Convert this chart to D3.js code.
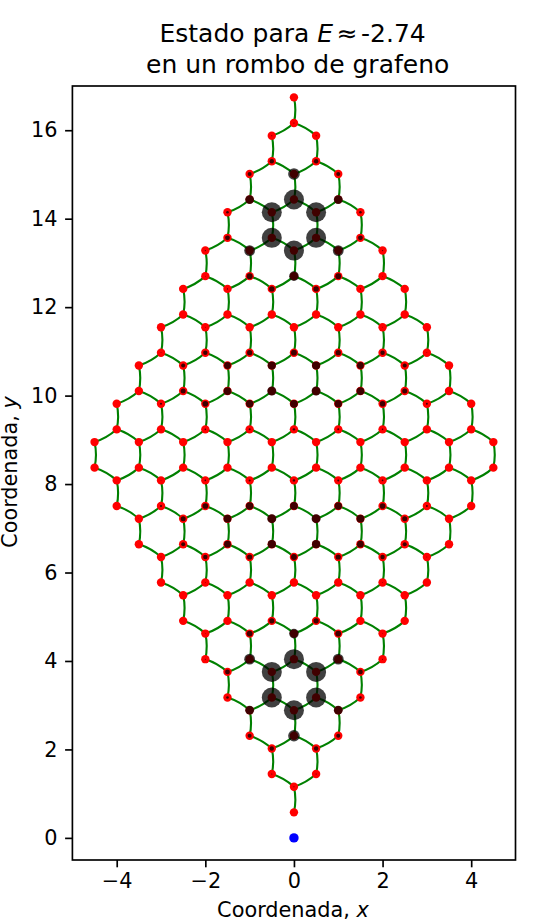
<!DOCTYPE html>
<html>
<head>
<meta charset="utf-8">
<style>
html,body{margin:0;padding:0;background:#fff}
svg{display:block}
text{font-family:"DejaVu Sans";fill:#000}
</style>
<script src="https://cdn.jsdelivr.net/npm/d3@7/dist/d3.min.js"></script>
</head>
<body>
<svg id="c" width="555" height="924"></svg>
<script>
const titleLine2 = "en un rombo de grafeno";
const xLabel = "Coordenada, ";
const yLabel = "Coordenada, ";
const xTicks = [-4,-2,0,2,4];
const yTicks = [0,2,4,6,8,10,12,14,16];
const xDomain = [-5,5];
const yDomain = [-0.5,17];
const sourcePoint = [0,0];

// lattice rows, bottom to top: height of each row
const rowY = [0.577,1.155,1.443,2.021,2.309,2.887,3.175,3.753,4.041,4.619,
  4.907,5.485,5.773,6.351,6.64,7.217,7.505,8.083,8.371,8.949,
  9.237,9.815,10.103,10.681,10.97,11.547,11.835,12.413,12.701,13.279,
  13.567,14.145,14.433,15.011,15.299,15.877,16.165,16.743];
// x position of the sites of each row
const rowX = [
 [0],[0],[-0.5,0.5],[-0.5,0.5],[-1,0,1],[-1,0,1],[-1.5,-0.5,0.5,1.5],[-1.5,-0.5,0.5,1.5],
 [-2,-1,0,1,2],[-2,-1,0,1,2],[-2.5,-1.5,-0.5,0.5,1.5,2.5],[-2.5,-1.5,-0.5,0.5,1.5,2.5],
 [-3,-2,-1,0,1,2,3],[-3,-2,-1,0,1,2,3],[-3.5,-2.5,-1.5,-0.5,0.5,1.5,2.5,3.5],[-3.5,-2.5,-1.5,-0.5,0.5,1.5,2.5,3.5],
 [-4,-3,-2,-1,0,1,2,3,4],[-4,-3,-2,-1,0,1,2,3,4],
 [-4.5,-3.5,-2.5,-1.5,-0.5,0.5,1.5,2.5,3.5,4.5],[-4.5,-3.5,-2.5,-1.5,-0.5,0.5,1.5,2.5,3.5,4.5],
 [-4,-3,-2,-1,0,1,2,3,4],[-4,-3,-2,-1,0,1,2,3,4],
 [-3.5,-2.5,-1.5,-0.5,0.5,1.5,2.5,3.5],[-3.5,-2.5,-1.5,-0.5,0.5,1.5,2.5,3.5],
 [-3,-2,-1,0,1,2,3],[-3,-2,-1,0,1,2,3],[-2.5,-1.5,-0.5,0.5,1.5,2.5],[-2.5,-1.5,-0.5,0.5,1.5,2.5],
 [-2,-1,0,1,2],[-2,-1,0,1,2],[-1.5,-0.5,0.5,1.5],[-1.5,-0.5,0.5,1.5],[-1,0,1],[-1,0,1],
 [-0.5,0.5],[-0.5,0.5],[0],[0]
];
// amplitude read from the dark discs, one value per site, 0 to 10
const rowAmp = [
 [0],[0.5],[0.5,0.5],[2.2,2.2],[2,5.8,2],[4.4,10,4.4],[1.3,10,10,1.3],[2.4,10,10,2.4],
 [0.5,5.4,10,5.4,0.5],[0.3,2.9,4.8,2.9,0.3],[0,0,2.6,2.6,0,0],[0,0,0,0,0,0],
 [0,0.4,0,0,0,0.4,0],[0.4,2.2,2.6,2.9,2.6,2.2,0.4],[0,2,3.4,4.1,4.1,3.4,2,0],[0.2,2.5,3.9,4.5,4.5,3.9,2.5,0.2],
 [0,1,2.8,3.7,3.9,3.7,2.8,1,0],[0,0.3,0.8,1,1.2,1,0.8,0.3,0],
 [0,0,0,0,0,0,0,0,0,0],[0,0,0,0,0,0,0,0,0,0],
 [0,0.3,0.8,1,1.2,1,0.8,0.3,0],[0,1,2.8,3.7,3.9,3.7,2.8,1,0],
 [0.2,2.5,3.9,4.5,4.5,3.9,2.5,0.2],[0,2,3.4,4.1,4.1,3.4,2,0],
 [0.4,2.2,2.6,2.9,2.6,2.2,0.4],[0,0.4,0,0,0,0.4,0],[0,0,0,0,0,0],[0,0.6,2.7,2.7,0.6,0],
 [0.3,2.9,4.8,2.9,0.3],[0.6,5.4,10,5.4,0.6],[2.4,10,10,2.4],[1.3,10,10,1.3],[4.4,10,4.4],[2,5.8,2],
 [2.2,2.2],[0.5,0.5],[0.5],[0]
];

const svg = d3.select("#c");
const L=72.4,R=515.5,T=86,B=860;
const x = d3.scaleLinear().domain(xDomain).range([L,R]);
const y = d3.scaleLinear().domain(yDomain).range([B,T]);
const r = d3.scaleLinear().domain([0,10]).range([0,10]);

const sites = [];
rowY.forEach((yy,i)=>rowX[i].forEach((xx,k)=>sites.push({x:xx,y:yy,amp:rowAmp[i][k]})));

// bonds connect nearest neighbours, each drawn bottom to top with the same bend
const bonds = [];
sites.forEach((a,i)=>sites.forEach((b,j)=>{
  if(j>i && Math.hypot(a.x-b.x,a.y-b.y)<0.62) bonds.push(a.y<b.y?[a,b]:[b,a]);
}));
const bend = 0.11;
function bondPath(d){
  const x0=x(d[0].x),y0=y(d[0].y),x1=x(d[1].x),y1=y(d[1].y);
  const mx=(x0+x1)/2,my=(y0+y1)/2,dx=x1-x0,dy=y1-y0;
  const p=d3.path();
  p.moveTo(x0,y0);
  p.quadraticCurveTo(mx-bend*dy,my+bend*dx,x1,y1);
  return p.toString();
}
svg.append("g").selectAll("path").data(bonds).join("path")
  .attr("d",bondPath).attr("fill","none").attr("stroke","#008000").attr("stroke-width",2.1);
svg.append("g").selectAll("circle").data(sites).join("circle")
  .attr("cx",d=>x(d.x)).attr("cy",d=>y(d.y)).attr("r",4.2).attr("fill","#ff0000");
svg.append("g").selectAll("circle").data(sites.filter(d=>d.amp>0)).join("circle")
  .attr("cx",d=>x(d.x)).attr("cy",d=>y(d.y)).attr("r",d=>r(d.amp)).attr("fill","#000").attr("fill-opacity",0.75);
svg.append("circle").attr("cx",x(sourcePoint[0])).attr("cy",y(sourcePoint[1])).attr("r",4.7).attr("fill","#0000ff");

svg.append("rect").attr("x",L).attr("y",T).attr("width",R-L).attr("height",B-T)
  .attr("fill","none").attr("stroke","#000").attr("stroke-width",1.67);

const xAxis = svg.append("g").attr("transform",`translate(0,${B})`)
  .call(d3.axisBottom(x).tickValues(xTicks).tickSizeInner(7.3).tickSizeOuter(0).tickPadding(6));
const yAxis = svg.append("g").attr("transform",`translate(${L},0)`)
  .call(d3.axisLeft(y).tickValues(yTicks).tickSizeInner(7.3).tickSizeOuter(0).tickPadding(7.5));
[xAxis,yAxis].forEach(g=>{
  g.select(".domain").remove();
  g.selectAll("line").attr("stroke","#000").attr("stroke-width",1.67);
  g.selectAll("text").attr("font-family","DejaVu Sans").attr("font-size",20.83).attr("fill","#000");
});

const title1 = svg.append("text").attr("x",159.5).attr("y",42).attr("font-size",25);
title1.append("tspan").text("Estado para ");
title1.append("tspan").attr("font-style","italic").text("E");
title1.append("tspan").attr("dx",3.5).text("≈");
title1.append("tspan").attr("dx",3.5).text("-2.74");
svg.append("text").attr("x",146).attr("y",72.5).attr("font-size",25).text(titleLine2);

const xl = svg.append("text").attr("x",293).attr("y",917).attr("text-anchor","middle").attr("font-size",20.83);
xl.append("tspan").text(xLabel);
xl.append("tspan").attr("font-style","italic").text("x");
const yl = svg.append("text").attr("transform","translate(16.6,472) rotate(-90)").attr("text-anchor","middle").attr("font-size",20.83);
yl.append("tspan").text(yLabel);
yl.append("tspan").attr("font-style","italic").text("y");
</script>
</body>
</html>
